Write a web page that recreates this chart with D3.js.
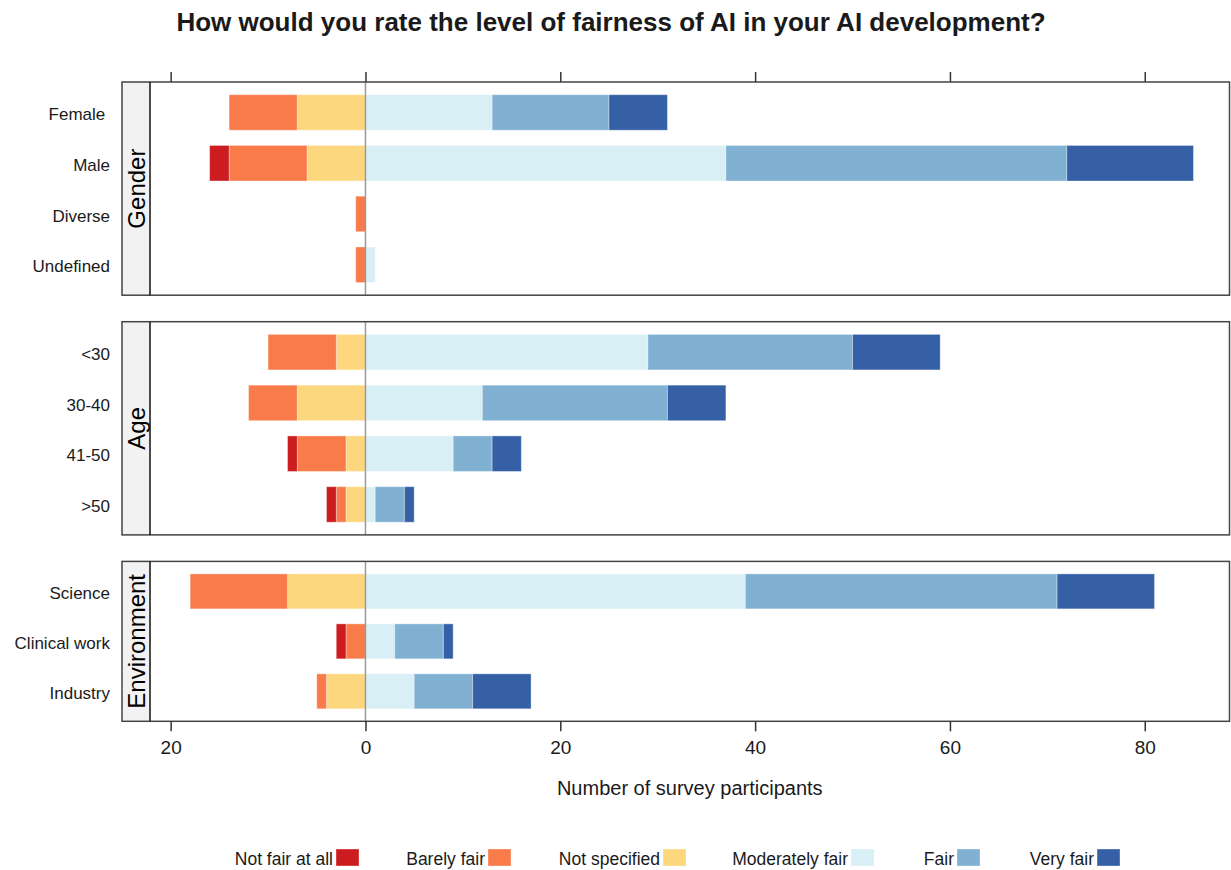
<!DOCTYPE html>
<html>
<head>
<meta charset="utf-8">
<script src="https://cdn.jsdelivr.net/npm/d3@7"></script>
<style>
  body { margin: 0; background: #fff; }
  text { font-family: "Liberation Sans", Arial, sans-serif; fill: #1a1a1a; }
</style>
</head>
<body>
<div id="chart"></div>
<script>
var categories = ["Not fair at all", "Barely fair", "Not specified", "Moderately fair", "Fair", "Very fair"];
var colors = ["#cc1c20", "#f97b4a", "#fdd77e", "#d9eff6", "#80b1d3", "#3560a6"];

var groups = ["Gender", "Age", "Environment"];

var genderRows = ["Female\u00a0", "Male", "Diverse", "Undefined"];
var genderValues = [
  [0, 7, 7, 13, 12, 6],
  [2, 8, 6, 37, 35, 13],
  [0, 1, 0, 0, 0, 0],
  [0, 1, 0, 1, 0, 0]
];

var ageRows = ["<30", "30-40", "41-50", ">50"];
var ageValues = [
  [0, 7, 3, 29, 21, 9],
  [0, 5, 7, 12, 19, 6],
  [1, 5, 2, 9, 4, 3],
  [1, 1, 2, 1, 3, 1]
];

var envRows = ["Science", "Clinical work", "Industry"];
var envValues = [
  [0, 10, 8, 39, 32, 10],
  [1, 2, 0, 3, 5, 1],
  [0, 1, 4, 5, 6, 6]
];

var tickValues = [-20, 0, 20, 40, 60, 80];

var width = 1231, height = 870;
var stripLeft = 122, plotLeft = 150, plotRight = 1229.5;
var rowH = 53.3, gap = 26.5, top0 = 82;

var svg = d3.select("#chart").append("svg")
    .attr("width", width)
    .attr("height", height);

var x = d3.scaleLinear()
    .domain([-22.12, 88.7])
    .range([plotLeft, plotRight]);

var color = d3.scaleOrdinal().domain(categories).range(colors);

var panels = [
  { name: groups[0], rows: genderRows, values: genderValues },
  { name: groups[1], rows: ageRows, values: ageValues },
  { name: groups[2], rows: envRows, values: envValues }
];

var yTop = top0;
panels.forEach(function(p) {
  p.top = yTop;
  p.h = p.rows.length * rowH;
  yTop = p.top + p.h + gap;
});

// title
svg.append("text")
  .attr("x", 611)
  .attr("y", 31)
  .attr("text-anchor", "middle")
  .style("font-size", "26px")
  .style("font-weight", "bold")
  .text("How would you rate the level of fairness of AI in your AI development?");

panels.forEach(function(p, pi) {
  var g = svg.append("g");

  var y = d3.scaleBand()
    .domain(p.rows)
    .range([p.top, p.top + p.h])
    .paddingInner(0.3)
    .paddingOuter(0.25);

  // strip
  g.append("rect")
    .attr("x", stripLeft)
    .attr("y", p.top)
    .attr("width", plotLeft - stripLeft)
    .attr("height", p.h)
    .attr("fill", "#f2f2f2");

  g.append("text")
    .attr("transform", "translate(" + 145 + "," + (p.top + p.h / 2) + ") rotate(-90)")
    .attr("text-anchor", "middle")
    .style("font-size", "24px")
    .style("fill", "#000")
    .text(p.name);

  // stacked segments
  var segs = [];
  p.values.forEach(function(vals, ri) {
    var neg = 0, pos = 0;
    // negative side: not specified closest to zero, then barely, then not fair
    [2, 1, 0].forEach(function(ci) {
      if (vals[ci] > 0) {
        segs.push({ row: p.rows[ri], cat: categories[ci], x0: neg - vals[ci], x1: neg });
      }
      neg -= vals[ci];
    });
    [3, 4, 5].forEach(function(ci) {
      if (vals[ci] > 0) {
        segs.push({ row: p.rows[ri], cat: categories[ci], x0: pos, x1: pos + vals[ci] });
      }
      pos += vals[ci];
    });
  });

  g.selectAll(".seg")
    .data(segs)
    .enter().append("rect")
    .attr("class", "seg")
    .attr("x", function(d) { return x(d.x0); })
    .attr("width", function(d) { return x(d.x1) - x(d.x0); })
    .attr("y", function(d) { return y(d.row); })
    .attr("height", y.bandwidth())
    .attr("fill", function(d) { return color(d.cat); })
    .attr("stroke", "#ffffff")
    .attr("stroke-opacity", 0.35)
    .attr("stroke-width", 1);

  // zero line
  g.append("line")
    .attr("x1", x(0)).attr("x2", x(0))
    .attr("y1", p.top).attr("y2", p.top + p.h)
    .attr("stroke", "#9a9a9a")
    .attr("stroke-width", 1.5);

  // row labels
  g.selectAll(".rowlab")
    .data(p.rows)
    .enter().append("text")
    .attr("class", "rowlab")
    .attr("x", 110)
    .attr("y", function(d) { return y(d) + y.bandwidth() / 2; })
    .attr("dy", "0.45em")
    .attr("text-anchor", "end")
    .style("font-size", "17px")
    .text(function(d) { return d; });

  // borders
  g.append("rect")
    .attr("x", stripLeft)
    .attr("y", p.top)
    .attr("width", plotRight - stripLeft)
    .attr("height", p.h)
    .attr("fill", "none")
    .attr("stroke", "#444")
    .attr("stroke-width", 1.5);

  g.append("line")
    .attr("x1", plotLeft).attr("x2", plotLeft)
    .attr("y1", p.top).attr("y2", p.top + p.h)
    .attr("stroke", "#111")
    .attr("stroke-width", 1.5);

  if (pi === 0) {
    var ta = svg.append("g")
      .attr("transform", "translate(0," + p.top + ")")
      .call(d3.axisTop(x).tickValues(tickValues).tickSize(10).tickFormat(""));
    ta.select(".domain").remove();
    ta.selectAll(".tick line").attr("stroke", "#333").attr("stroke-width", 1.5);
  }
  if (pi === panels.length - 1) {
    var ba = svg.append("g")
      .attr("transform", "translate(0," + (p.top + p.h) + ")")
      .call(d3.axisBottom(x).tickValues(tickValues).tickSize(10).tickPadding(9)
        .tickFormat(function(d) { return Math.abs(d); }));
    ba.select(".domain").remove();
    ba.selectAll(".tick line").attr("stroke", "#333").attr("stroke-width", 1.5);
    ba.selectAll(".tick text")
      .style("font-size", "19px")
      .style("font-family", "'Liberation Sans', Arial, sans-serif")
      .attr("fill", "#1a1a1a");
  }
});

// axis title
svg.append("text")
  .attr("x", (plotLeft + plotRight) / 2)
  .attr("y", 795)
  .attr("text-anchor", "middle")
  .style("font-size", "20px")
  .text("Number of survey participants");

// legend: swatch left edges of each column
var legendX = [336, 488, 663, 851, 957, 1097];
var legend = svg.append("g");
var items = legend.selectAll(".item")
  .data(categories)
  .enter().append("g")
  .attr("class", "item");

items.append("text")
  .attr("text-anchor", "end")
  .attr("x", function(d, i) { return legendX[i] - 3; })
  .attr("y", 865)
  .style("font-size", "17.5px")
  .text(function(d) { return d; });

items.append("rect")
  .attr("x", function(d, i) { return legendX[i]; })
  .attr("y", 849)
  .attr("width", 23)
  .attr("height", 17)
  .attr("fill", function(d) { return color(d); })
  .attr("stroke", "#ffffff")
  .attr("stroke-opacity", 0.35);
</script>
</body>
</html>
